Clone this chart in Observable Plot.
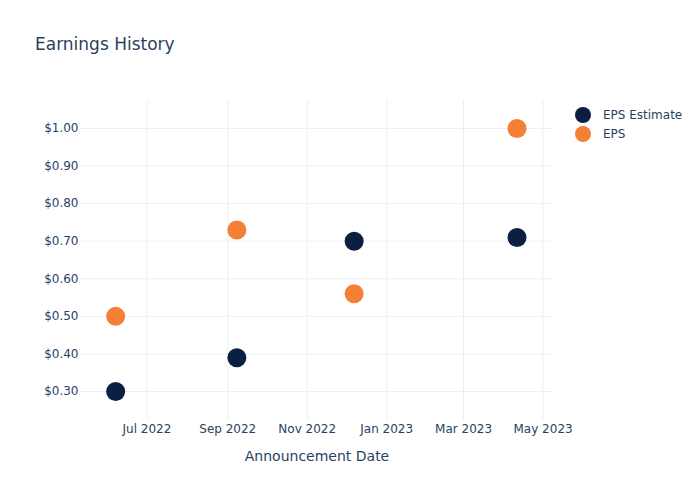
<!DOCTYPE html>
<html>
<head>
<meta charset="utf-8">
<script src="https://cdn.jsdelivr.net/npm/d3@7"></script>
<script src="https://cdn.jsdelivr.net/npm/@observablehq/plot@0.6"></script>
<style>
  body { margin: 0; background: #fff; font-family: "DejaVu Sans", sans-serif; }
  #wrap { position: relative; width: 700px; height: 500px; }
  #title { position: absolute; left: 35px; top: 34px; font-size: 17px; line-height: 20px; color: #2a3f5f; }
  #legend { position: absolute; left: 574px; top: 105px; font-size: 12px; color: #2a3f5f; }
  .item { display: flex; align-items: center; height: 19px; }
  .sw { width: 16px; height: 16px; border-radius: 50%; margin-right: 12px; margin-left: 1px; }
</style>
</head>
<body>
<div id="wrap">
  <div id="chart"></div>
  <div id="title">Earnings History</div>
  <div id="legend"></div>
</div>
<script>
const dates = ["2022-06-07", "2022-09-08", "2022-12-07", "2023-04-11"];
const epsEstimate = [0.30, 0.39, 0.70, 0.71];
const eps = [0.50, 0.73, 0.56, 1.00];
const seriesNames = ["EPS Estimate", "EPS"];
const seriesColors = ["#0c1f40", "#f47f35"];
const xLabel = "Announcement Date";

const rows = [];
dates.forEach((d, i) => {
  rows.push({date: new Date(d), value: epsEstimate[i], series: seriesNames[0]});
});
dates.forEach((d, i) => {
  rows.push({date: new Date(d), value: eps[i], series: seriesNames[1]});
});

const chart = Plot.plot({
  width: 700,
  height: 500,
  marginLeft: 80,
  marginRight: 147,
  marginTop: 100,
  marginBottom: 80,
  style: {fontFamily: "DejaVu Sans, sans-serif", fontSize: "12px", color: "#2a3f5f", background: "white"},
  x: {type: "utc", domain: [new Date("2022-05-11"), new Date("2023-05-09")]},
  y: {domain: [0.2228, 1.0745]},
  color: {domain: seriesNames, range: seriesColors},
  marks: [
    Plot.gridX({ticks: d3.utcMonth.every(2), stroke: "#ebf0f8", strokeOpacity: 1}),
    Plot.gridY({ticks: d3.range(0.3, 1.001, 0.1), stroke: "#ebf0f8", strokeOpacity: 1}),
    Plot.axisX({ticks: d3.utcMonth.every(2), tickFormat: d3.utcFormat("%b %Y"), tickSize: 0, tickPadding: 4, label: null, fill: "#2a3f5f", fontSize: 12}),
    Plot.axisY({ticks: d3.range(0.3, 1.001, 0.1), tickFormat: d3.format("$.2f"), tickSize: 0, tickPadding: 2, label: null, fill: "#2a3f5f", fontSize: 12}),
    Plot.dot(rows, {x: "date", y: "value", fill: "series", r: 9.5}),
    Plot.text([xLabel], {frameAnchor: "bottom", dy: 36, text: d => d, fontSize: 14, fill: "#2a3f5f", lineAnchor: "middle"})
  ]
});
document.getElementById("chart").appendChild(chart);

const legend = document.getElementById("legend");
seriesNames.forEach((name, i) => {
  const it = document.createElement("div");
  it.className = "item";
  const sw = document.createElement("div");
  sw.className = "sw";
  sw.style.background = seriesColors[i];
  const t = document.createElement("span");
  t.textContent = name;
  it.appendChild(sw);
  it.appendChild(t);
  legend.appendChild(it);
});
</script>
</body>
</html>
